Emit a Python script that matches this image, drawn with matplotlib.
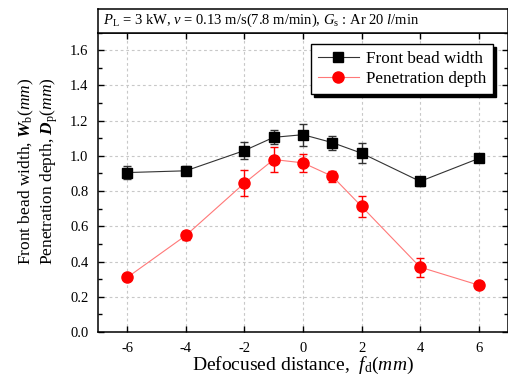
import matplotlib
matplotlib.use("Agg")
import matplotlib.pyplot as plt
from matplotlib.ticker import MultipleLocator
from matplotlib.lines import Line2D

plt.rcParams['font.family'] = ['Liberation Serif', 'DejaVu Serif']
plt.rcParams['mathtext.fontset'] = 'custom'
plt.rcParams['mathtext.rm'] = 'Liberation Serif'
plt.rcParams['mathtext.it'] = 'Liberation Serif:italic'
plt.rcParams['mathtext.bf'] = 'Liberation Serif:bold'
plt.rcParams['mathtext.bfit'] = 'Liberation Serif:bold:italic'

# Data
defocus = [-6, -4, -2, -1, 0, 1, 2, 4, 6]
width_vals = [0.905, 0.915, 1.03, 1.105, 1.12, 1.075, 1.015, 0.855, 0.985]
width_err = [0.038, 0.025, 0.05, 0.04, 0.063, 0.04, 0.058, 0.025, 0.02]
depth_vals = [0.31, 0.548, 0.845, 0.979, 0.96, 0.884, 0.713, 0.368, 0.266]
depth_err = [0.015, 0.028, 0.075, 0.07, 0.053, 0.032, 0.06, 0.053, 0.015]
xticks = [-6, -4, -2, 0, 2, 4, 6]
yticks = [0.0, 0.2, 0.4, 0.6, 0.8, 1.0, 1.2, 1.4, 1.6]

W, H = 508, 381
fig = plt.figure(figsize=(W / 100, H / 100), dpi=100)

ax_l, ax_r, ax_t, ax_b = 98, 508, 32.5, 332
ax = fig.add_axes([ax_l / W, 1 - ax_b / H, (ax_r - ax_l) / W, (ax_b - ax_t) / H])

black_line = '#333333'
red_line = '#ff7878'
ax.errorbar(defocus, width_vals, yerr=width_err, color=black_line, ecolor='#333333',
            marker='s', markersize=7.5, markerfacecolor='black', markeredgecolor='black',
            linewidth=0.8, elinewidth=1.0, capsize=3.2, capthick=1.0, zorder=3)
ax.errorbar(defocus, depth_vals, yerr=depth_err, color=red_line, ecolor='red',
            marker='o', markersize=8, markerfacecolor='red', markeredgecolor='red',
            linewidth=0.8, elinewidth=1.0, capsize=3.2, capthick=1.0, zorder=3)

ax.set_xlim(-7, 7)
ax.set_ylim(0, 1.7)
ax.set_xticks(xticks)
ax.set_xticklabels([str(v) for v in xticks])
ax.set_yticks(yticks)
ax.set_yticklabels([f"{v:.1f}" for v in yticks])
ax.yaxis.set_minor_locator(MultipleLocator(0.1))
ax.tick_params(axis='both', which='both', direction='in', top=True, right=True,
               labelsize=10.5)
ax.tick_params(axis='both', which='major', length=4, width=1, pad=7)
ax.tick_params(axis='y', which='minor', length=3, width=1)
ax.grid(True, which='major', linestyle=(0, (2.5, 2.5)), color='#c8c8c8', linewidth=0.8)
ax.set_axisbelow(True)
for s in ax.spines.values():
    s.set_linewidth(1.1)

ax.set_xlabel(r"Defocused distance,  $f_{\rm d}(mm)$", fontsize=14, labelpad=0)
ax.set_ylabel("Front bead width, $\\mathbfit{W}_{\\rm b}(mm)$\n"
              "Penetration depth, $\\mathbfit{D}_{\\rm p}(mm)$", fontsize=12.5,
              linespacing=1.15)
ax.yaxis.set_label_coords(-38 / (ax_r - ax_l), 0.536)

handles = [Line2D([], [], color=black_line, marker='s', markersize=7.5,
                  markerfacecolor='black', markeredgecolor='black', linewidth=0.8),
           Line2D([], [], color=red_line, marker='o', markersize=8,
                  markerfacecolor='red', markeredgecolor='red', linewidth=0.8)]
labels = ['Front bead width', 'Penetration depth']
leg = ax.legend(handles, labels, loc='upper right', bbox_to_anchor=(0.963, 0.9616),
                borderaxespad=0, fontsize=12.3,
                frameon=True, fancybox=False, shadow={'color': 'black', 'alpha': 1},
                edgecolor='black', framealpha=1, borderpad=0.4, labelspacing=0.25,
                handlelength=2.4, handletextpad=0.4)
leg.get_frame().set_linewidth(1.0)

# header box
hx = fig.add_axes([ax_l / W, 1 - ax_t / H, (ax_r - ax_l) / W, (ax_t - 9) / H])
hx.set_xticks([])
hx.set_yticks([])
for s in hx.spines.values():
    s.set_linewidth(1.1)
hx.text(0.012, 0.5, r"$P_{\rm L}$ = 3 kW, $v$ = 0.13 m/s(7.8 m/min), $G_{\rm s}$ : Ar 20 $l$/min",
        transform=hx.transAxes, va='center', ha='left', fontsize=10.5)

fig.savefig("out.png", dpi=100)
